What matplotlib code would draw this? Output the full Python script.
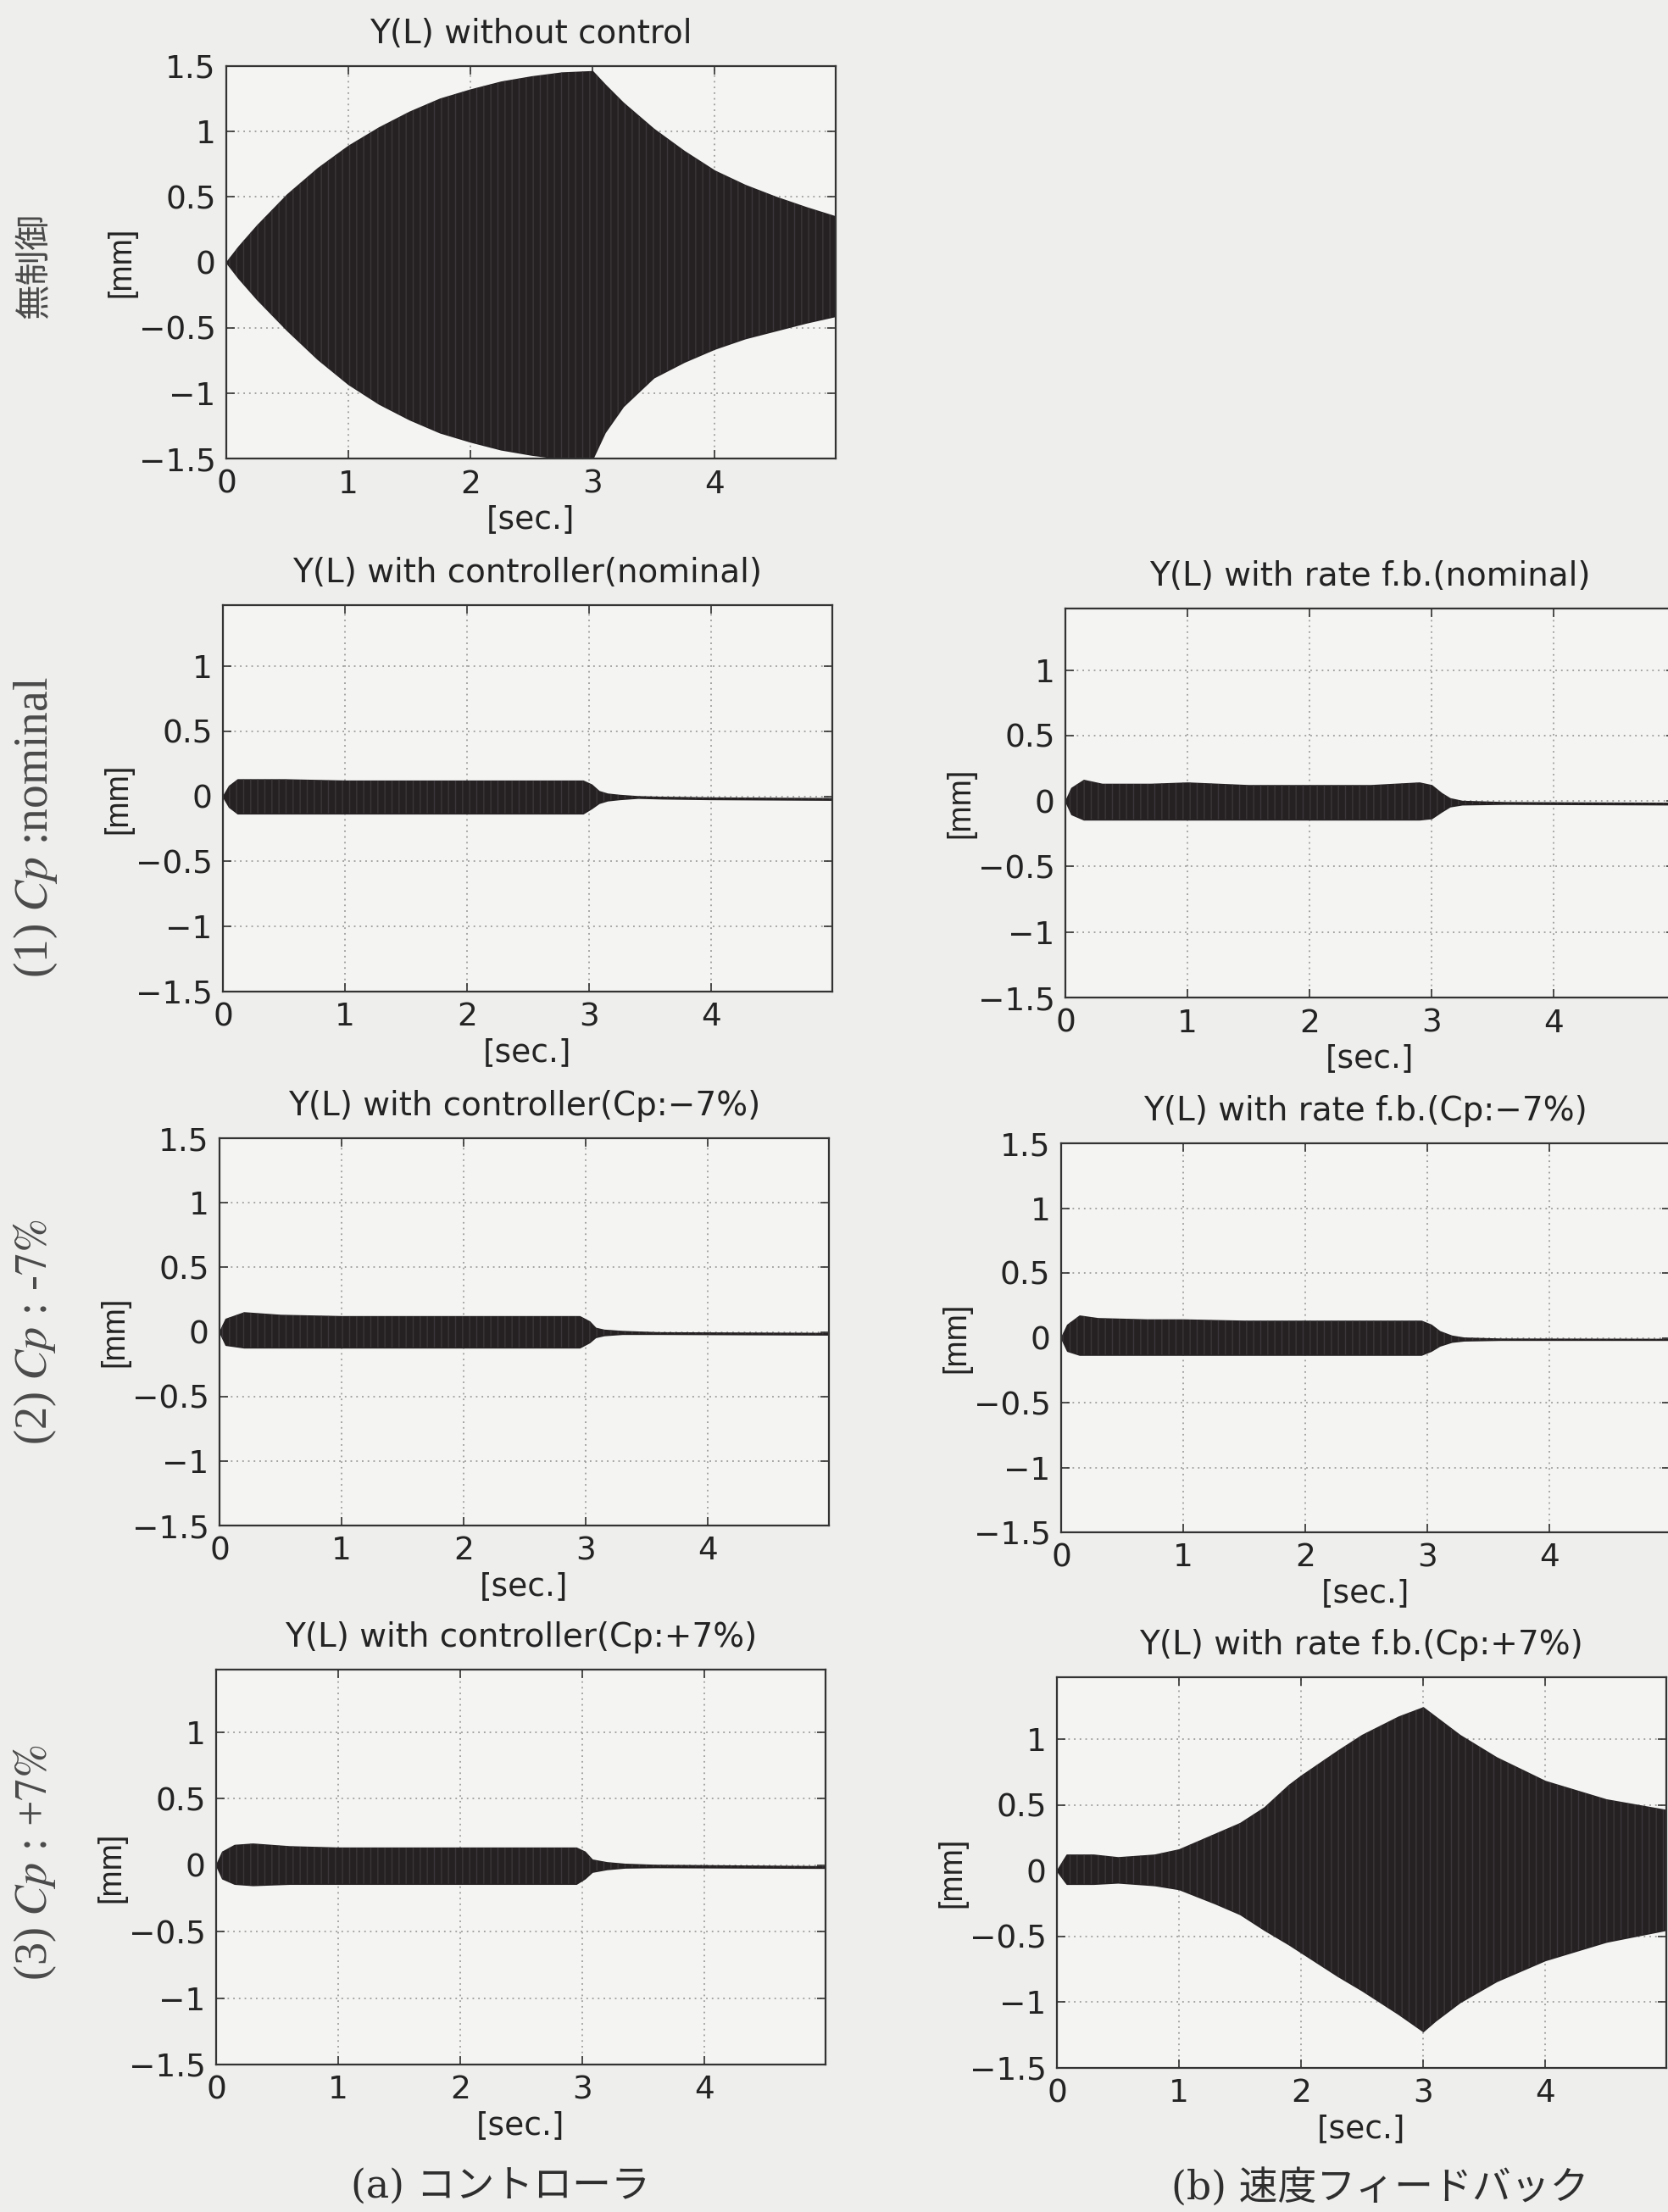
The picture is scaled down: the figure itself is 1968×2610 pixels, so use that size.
import matplotlib
matplotlib.use("Agg")
import matplotlib.pyplot as plt

# ------------------------------------------------------------------
# Envelope (upper / lower peaks) of the tip displacement Y(L) [mm]
# against time [sec.] for each simulated case.
# ------------------------------------------------------------------

# (0) without control
t_free = [0, 0.1, 0.25, 0.5, 0.75, 1.0, 1.25, 1.5, 1.75, 2.0, 2.25, 2.5, 2.75,
          3.0, 3.1, 3.25, 3.5, 3.75, 4.0, 4.25, 4.5, 4.75, 4.99]
up_free = [0, 0.12, 0.28, 0.52, 0.72, 0.89, 1.03, 1.15, 1.25, 1.32, 1.38, 1.42,
           1.45, 1.46, 1.36, 1.22, 1.02, 0.85, 0.70, 0.59, 0.50, 0.42, 0.35]
lo_free = [0, -0.12, -0.28, -0.52, -0.74, -0.93, -1.08, -1.20, -1.30, -1.37,
           -1.43, -1.47, -1.50, -1.50, -1.30, -1.10, -0.88, -0.76, -0.66, -0.58,
           -0.52, -0.46, -0.41]

# (a) controller, nominal Cp
t_ctl_nom = [0, 0.05, 0.12, 0.5, 1.0, 1.5, 2.0, 2.5, 2.95, 3.02, 3.08, 3.15,
             3.25, 3.4, 3.6, 4.0, 4.99]
up_ctl_nom = [0, 0.08, 0.13, 0.13, 0.12, 0.12, 0.12, 0.12, 0.12, 0.09, 0.04,
              0.02, 0.01, 0.0, -0.005, -0.01, -0.015]
lo_ctl_nom = [0, -0.08, -0.13, -0.13, -0.13, -0.13, -0.13, -0.13, -0.13, -0.09,
              -0.05, -0.03, -0.02, -0.01, -0.015, -0.02, -0.025]

# (a) controller, Cp -7%
t_ctl_m7 = [0, 0.05, 0.2, 0.5, 1.0, 2.0, 2.95, 3.03, 3.08, 3.15, 3.3, 3.6, 4.99]
up_ctl_m7 = [0, 0.10, 0.15, 0.13, 0.12, 0.12, 0.12, 0.08, 0.03, 0.015, 0.005,
             -0.005, -0.01]
lo_ctl_m7 = [0, -0.10, -0.12, -0.12, -0.12, -0.12, -0.12, -0.08, -0.04, -0.025,
             -0.015, -0.015, -0.02]

# (a) controller, Cp +7%
t_ctl_p7 = [0, 0.05, 0.15, 0.3, 0.6, 1.0, 2.0, 2.95, 3.02, 3.08, 3.2, 3.35,
            3.6, 4.99]
up_ctl_p7 = [0, 0.10, 0.15, 0.16, 0.14, 0.13, 0.13, 0.13, 0.10, 0.04, 0.02,
             0.008, 0.0, -0.01]
lo_ctl_p7 = [0, -0.10, -0.14, -0.15, -0.14, -0.14, -0.14, -0.14, -0.10, -0.05,
             -0.03, -0.018, -0.015, -0.02]

# (b) rate feedback, nominal Cp
t_fb_nom = [0, 0.05, 0.15, 0.3, 0.7, 1.0, 1.5, 2.0, 2.5, 2.9, 3.0, 3.08, 3.15,
            3.25, 3.6, 4.99]
up_fb_nom = [0, 0.10, 0.16, 0.13, 0.13, 0.14, 0.12, 0.12, 0.12, 0.14, 0.12,
             0.06, 0.02, 0.0, -0.01, -0.015]
lo_fb_nom = [0, -0.10, -0.14, -0.14, -0.14, -0.14, -0.14, -0.14, -0.14, -0.14,
             -0.13, -0.08, -0.04, -0.025, -0.02, -0.025]

# (b) rate feedback, Cp -7%
t_fb_m7 = [0, 0.05, 0.15, 0.3, 0.7, 1.0, 1.5, 2.0, 2.5, 2.95, 3.03, 3.1, 3.2,
           3.3, 3.6, 4.99]
up_fb_m7 = [0, 0.10, 0.17, 0.15, 0.14, 0.14, 0.13, 0.13, 0.13, 0.13, 0.10,
            0.05, 0.015, 0.0, -0.008, -0.01]
lo_fb_m7 = [0, -0.10, -0.13, -0.13, -0.13, -0.13, -0.13, -0.13, -0.13, -0.13,
            -0.10, -0.06, -0.03, -0.02, -0.015, -0.015]

# (b) rate feedback, Cp +7%
t_fb_p7 = [0, 0.08, 0.3, 0.5, 0.8, 1.0, 1.3, 1.5, 1.7, 1.9, 2.0, 2.3, 2.5, 2.8,
           3.0, 3.1, 3.3, 3.6, 4.0, 4.5, 4.99]
up_fb_p7 = [0, 0.12, 0.12, 0.10, 0.12, 0.16, 0.28, 0.36, 0.48, 0.65, 0.72, 0.91,
            1.03, 1.17, 1.24, 1.17, 1.03, 0.86, 0.68, 0.54, 0.46]
lo_fb_p7 = [0, -0.10, -0.10, -0.09, -0.11, -0.14, -0.25, -0.33, -0.45, -0.56,
            -0.62, -0.80, -0.91, -1.09, -1.22, -1.14, -1.00, -0.84, -0.68, -0.54,
            -0.45]

# Axis ticks and labels
x_ticks = [0, 1, 2, 3, 4]
x_ticklabels = ["0", "1", "2", "3", "4"]
y_ticks = [-1.5, -1, -0.5, 0, 0.5, 1, 1.5]
y_ticklabels = ["\u22121.5", "\u22121", "\u22120.5", "0", "0.5", "1", "1.5"]

titles = {
    "free": "Y(L) without control",
    "ctl_nom": "Y(L) with controller(nominal)",
    "ctl_m7": "Y(L) with controller(Cp:\u22127%)",
    "ctl_p7": "Y(L) with controller(Cp:+7%)",
    "fb_nom": "Y(L) with rate f.b.(nominal)",
    "fb_m7": "Y(L) with rate f.b.(Cp:\u22127%)",
    "fb_p7": "Y(L) with rate f.b.(Cp:+7%)",
}
x_label = "[sec.]"
y_label = "[mm]"
row_labels = ["無制御", r"(1) $Cp$ :nominal", r"(2) $Cp$ : -$\mathit{7\%}$",
              r"(3) $Cp$ : +$\mathit{7\%}$"]
captions = ["(a) コントローラ", "(b) 速度フィードバック"]

# ------------------------------------------------------------------
W, H = 1968, 2610
plt.rcParams["mathtext.fontset"] = "stix"
plt.rcParams["hatch.linewidth"] = 1.0
fig = plt.figure(figsize=(W / 100, H / 100), dpi=100, facecolor="#eeeeec")

INK = "#252123"
STREAK = "#3b3639"
TXT = "#232323"
X_MAX = 4.99


def add_panel(x0, top, bot, width, key, t, up, lo, y_top):
    ax = fig.add_axes([x0 / W, 1 - bot / H, width / W, (bot - top) / H])
    ax.set_facecolor("#f4f4f2")
    # dense oscillation trace shown as its peak envelope
    ax.fill_between(t, lo, up, color=INK, edgecolor=INK, linewidth=1.3,
                    zorder=3)
    ax.fill_between(t, lo, up, facecolor="none", edgecolor=STREAK,
                    linewidth=0, hatch="||", zorder=3.5)
    ax.set_xticks(x_ticks, labels=x_ticklabels)
    ax.set_yticks(y_ticks, labels=y_ticklabels)
    ax.set_xlim(0, X_MAX)
    ax.set_ylim(-1.5, y_top)
    ax.set_axisbelow(True)
    ax.grid(True, color="#8e8e8e", linestyle=(0, (1.2, 3.2)), linewidth=1.1)
    ax.tick_params(direction="in", length=7, width=1.2, top=True, right=True,
                   color="#333333", labelcolor=TXT, labelsize=27, pad=9)
    for lab in ax.get_xticklabels() + ax.get_yticklabels():
        lab.set_family("DejaVu Sans")
    for s in ax.spines.values():
        s.set_linewidth(1.6)
        s.set_color("#333333")
        s.set_zorder(5)
    h = bot - top
    ax.set_title(titles[key], fontsize=28, family="DejaVu Sans", color=TXT,
                 y=1 + 38 / h, va="center", pad=0)
    ax.set_xlabel(x_label, fontsize=27, family="DejaVu Sans", color=TXT)
    ax.xaxis.set_label_coords(0.5, -72 / h)
    ax.xaxis.label.set_va("center")
    ax.set_ylabel(y_label, fontsize=27, family="Liberation Sans", color=TXT)
    ax.yaxis.set_label_coords(-124 / width, 0.5)
    ax.yaxis.label.set_va("center")
    return ax


UNIT = 144.0
LW = UNIT * X_MAX

# left column: no control and controller cases
add_panel(267, 78, 541, LW, "free", t_free, up_free, lo_free, 1.5)
add_panel(263, 714, 1170, LW, "ctl_nom", t_ctl_nom, up_ctl_nom, lo_ctl_nom, 1.47)
add_panel(259, 1343, 1800, LW, "ctl_m7", t_ctl_m7, up_ctl_m7, lo_ctl_m7, 1.5)
add_panel(255, 1970, 2436, LW, "ctl_p7", t_ctl_p7, up_ctl_p7, lo_ctl_p7, 1.47)

# right column: rate feedback cases
add_panel(1257, 718, 1177, LW, "fb_nom", t_fb_nom, up_fb_nom, lo_fb_nom, 1.47)
add_panel(1252, 1349, 1808, LW, "fb_m7", t_fb_m7, up_fb_m7, lo_fb_m7, 1.5)
add_panel(1247, 1979, 2440, LW, "fb_p7", t_fb_p7, up_fb_p7, lo_fb_p7, 1.47)

# row labels on the far left
row_y = [314, 976, 1572, 2198]
row_fs = [30, 40, 39, 39]
for lab, yc, fs in zip(row_labels, row_y, row_fs):
    fig.text(42 / W, 1 - yc / H, lab, rotation=90, ha="center", va="center",
             fontsize=fs, color="#4a4a4a",
             family=["Liberation Serif", "Noto Sans CJK JP"])

# column captions
fig.text(590 / W, 1 - 2581 / H, captions[0], ha="center", va="center",
         fontsize=33, color="#2e2e2e",
         family=["DejaVu Serif", "Noto Sans CJK JP"])
fig.text(1628 / W, 1 - 2583 / H, captions[1], ha="center", va="center",
         fontsize=33, color="#2e2e2e",
         family=["DejaVu Serif", "Noto Sans CJK JP"])

fig.savefig("out.png", dpi=100, facecolor=fig.get_facecolor())
